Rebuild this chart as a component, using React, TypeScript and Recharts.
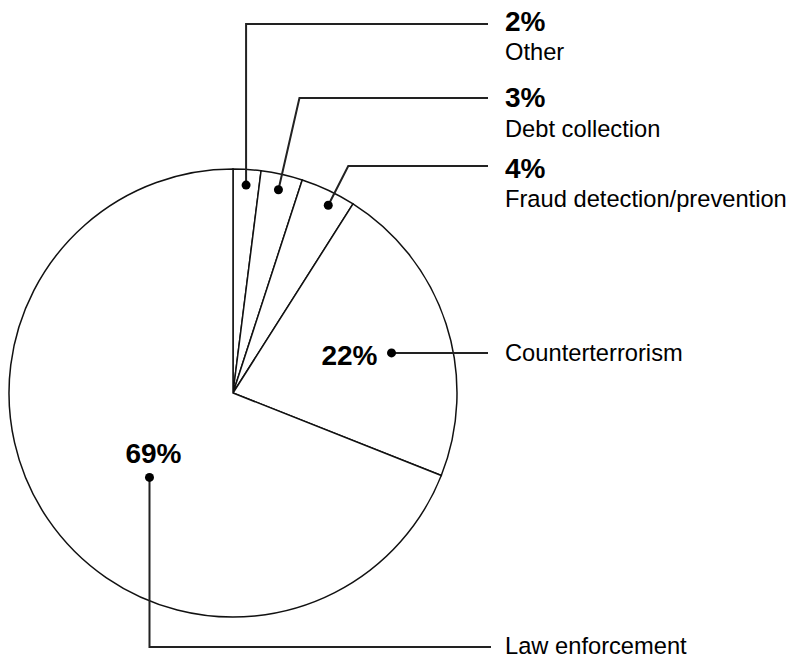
import React from 'react';
import { PieChart, Pie, Cell } from 'recharts';

// ---- data ----
const categories = ['Other', 'Debt collection', 'Fraud detection/prevention', 'Counterterrorism', 'Law enforcement'];
const shares = [2, 3, 4, 22, 69];
const pctLabels = ['2%', '3%', '4%', '22%', '69%'];

const data = categories.map((name, i) => ({ name, value: shares[i], pct: pctLabels[i] }));

// ---- label layout (styling / positions only) ----
type Layout = {
  kind: 'top' | 'side' | 'bottom';
  rFrac: number;
  dAngle: number;
  elbowDx?: number;
  lineY?: number;
  pctY?: number;
  catY?: number;
};
const LABEL_LAYOUT: Layout[] = [
  { kind: 'top', rFrac: 0.93, dAngle: 0, elbowDx: 0, lineY: 24, pctY: 31, catY: 60 },
  { kind: 'top', rFrac: 0.93, dAngle: 0, elbowDx: 21, lineY: 98, pctY: 107, catY: 137 },
  { kind: 'top', rFrac: 0.94, dAngle: -1.7, elbowDx: 20, lineY: 166, pctY: 178, catY: 207 },
  { kind: 'side', rFrac: 0.73, dAngle: -3.8 },
  { kind: 'bottom', rFrac: 0.53, dAngle: 11.1, lineY: 647 },
];

const FONT = '"Liberation Sans", Arial, Helvetica, sans-serif';
const LINE = '#222';
const TEXT_X = 505;
const LINE_END = 488;
const RAD = Math.PI / 180;

const renderLabel = (props: any) => {
  const { cx, cy, midAngle, outerRadius, index, name, pct } = props;
  const lay = LABEL_LAYOUT[index];
  const ang = (midAngle + lay.dAngle) * RAD;
  const r = outerRadius * lay.rFrac;
  const dx = cx + r * Math.cos(-ang);
  const dy = cy + r * Math.sin(-ang);
  const pctStyle = { fontFamily: FONT, fontWeight: 700, fontSize: 28, fill: '#000' } as const;
  const catStyle = { fontFamily: FONT, fontWeight: 400, fontSize: 23.7, fill: '#000' } as const;

  if (lay.kind === 'top') {
    const ex = dx + (lay.elbowDx || 0);
    return (
      <g key={`lbl-${index}`}>
        <polyline points={`${dx},${dy} ${ex},${lay.lineY} ${LINE_END},${lay.lineY}`} fill="none" stroke={LINE} strokeWidth={2} />
        <circle cx={dx} cy={dy} r={4.5} fill="#000" />
        <text x={TEXT_X} y={lay.pctY} style={pctStyle}>{pct}</text>
        <text x={TEXT_X} y={lay.catY} style={catStyle}>{name}</text>
      </g>
    );
  }
  if (lay.kind === 'side') {
    return (
      <g key={`lbl-${index}`}>
        <line x1={dx} y1={dy} x2={LINE_END} y2={dy} stroke={LINE} strokeWidth={2} />
        <circle cx={dx} cy={dy} r={4.5} fill="#000" />
        <text x={dx - 14} y={dy + 12} textAnchor="end" style={pctStyle}>{pct}</text>
        <text x={TEXT_X} y={dy + 8} style={catStyle}>{name}</text>
      </g>
    );
  }
  return (
    <g key={`lbl-${index}`}>
      <polyline points={`${dx},${dy} ${dx},${lay.lineY} ${LINE_END + 3},${lay.lineY}`} fill="none" stroke={LINE} strokeWidth={2} />
      <circle cx={dx} cy={dy} r={4.5} fill="#000" />
      <text x={dx + 4} y={dy - 14} textAnchor="middle" style={pctStyle}>{pct}</text>
      <text x={TEXT_X} y={(lay.lineY || 0) + 7} style={catStyle}>{name}</text>
    </g>
  );
};

export default function App() {
  return (
    <div style={{ position: 'absolute', left: 0, top: 0, width: 792, height: 658, background: '#fff' }}>
      <PieChart width={792} height={658} margin={{ top: 0, right: 0, bottom: 0, left: 0 }}>
        <Pie
          data={data}
          dataKey="value"
          nameKey="name"
          cx={233}
          cy={393}
          outerRadius={224}
          startAngle={90}
          endAngle={-270}
          stroke="#111"
          strokeWidth={1.5}
          isAnimationActive={false}
          labelLine={false}
          label={renderLabel}
        >
          {data.map((d) => (
            <Cell key={d.name} fill="#fff" stroke="#111" strokeWidth={1.5} />
          ))}
        </Pie>
      </PieChart>
    </div>
  );
}
